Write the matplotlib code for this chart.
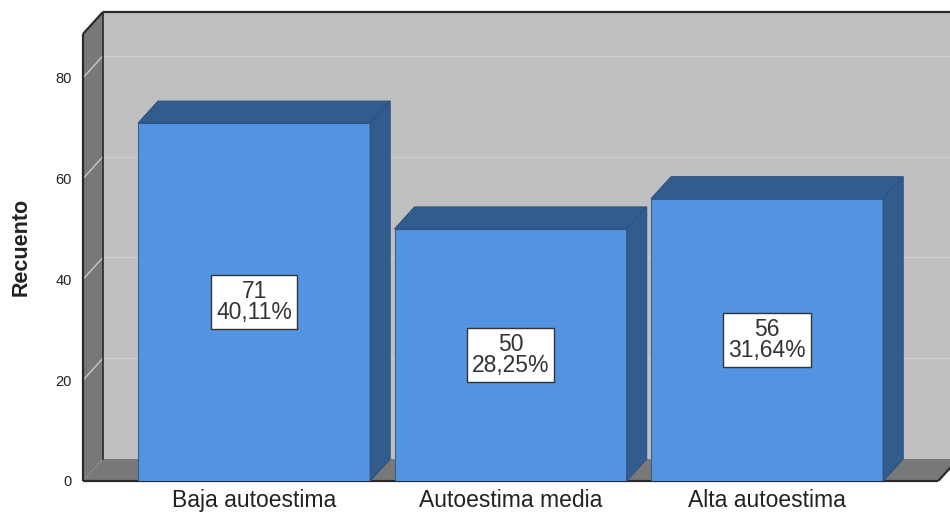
import matplotlib.pyplot as plt
from matplotlib.patches import Polygon, Rectangle

# ── DATA ──────────────────────────────────────────────────
categories = ['Baja autoestima', 'Autoestima media', 'Alta autoestima']
counts = [71, 50, 56]
percents = ['40,11%', '28,25%', '31,64%']
y_ticks = [0, 20, 40, 60, 80]

# ── STYLE / GEOMETRY ──────────────────────────────────────
plt.rcParams['font.family'] = ['Liberation Sans', 'DejaVu Sans']
bar_w = 0.905
ddx, ddy = 0.078, 4.37          # depth offset of the pseudo-3D box
x_lo, x_hi = -0.667, 2.667      # front edges of the floor
y_top = 88.7                    # top of the walls (front)
front_c = '#5294e2'
dark_c = '#335c8e'
wall_c = '#c0c0c0'
side_c = '#787878'
ink = '#222222'

fig = plt.figure(figsize=(9.5, 5.15), dpi=100)
ax = fig.add_axes([83 / 950, 34 / 515, 867 / 950, 469 / 515])
ax.set_xlim(x_lo, 2.713)
ax.set_ylim(0, 93.05)
for s in ax.spines.values():
    s.set_visible(False)

# back wall
ax.add_patch(Rectangle((x_lo + ddx, ddy), 5, y_top, facecolor=wall_c,
                       edgecolor='none', zorder=0))
for t in y_ticks[1:]:
    ax.plot([x_lo + ddx, 3.0], [t + ddy, t + ddy], color='#cdcdcd', lw=1, zorder=1)

# left wall
ax.add_patch(Polygon([(x_lo, 0), (x_lo + ddx, ddy), (x_lo + ddx, y_top + ddy),
                      (x_lo, y_top)], facecolor=side_c, edgecolor='none', zorder=1))
for t in y_ticks[1:]:
    ax.plot([x_lo, x_lo + ddx], [t, t + ddy], color='#c8c8c8', lw=1, zorder=2)

# floor
ax.add_patch(Polygon([(x_lo, 0), (x_hi, 0), (x_hi + ddx, ddy), (x_lo + ddx, ddy)],
                     facecolor=side_c, edgecolor='none', zorder=1))

# frame edges
edge_kw = dict(color='#2a2a2a', lw=1.6, zorder=3, clip_on=False, solid_capstyle='butt')
ax.plot([x_lo, x_lo], [0, y_top], **edge_kw)
ax.plot([x_lo, x_lo + ddx], [y_top, y_top + ddy], **edge_kw)
ax.plot([x_lo + ddx, 3.0], [y_top + ddy, y_top + ddy], **edge_kw)
ax.plot([x_lo + ddx, x_lo + ddx], [ddy, y_top + ddy], color='#2a2a2a', lw=1.2, zorder=2)
ax.plot([x_lo, x_hi], [0, 0], **edge_kw)
ax.plot([x_hi, x_hi + ddx], [0, ddy], **edge_kw)

# bars
for i, (v, pct) in enumerate(zip(counts, percents)):
    l, r = i - bar_w / 2, i + bar_w / 2
    ax.add_patch(Rectangle((l, 0), bar_w, v, facecolor=front_c,
                           edgecolor='#3b5f8c', lw=0.8, zorder=4))
    ax.add_patch(Polygon([(l, v), (r, v), (r + ddx, v + ddy), (l + ddx, v + ddy)],
                         facecolor=dark_c, edgecolor='#2e527f', lw=0.8, zorder=4))
    ax.add_patch(Polygon([(r, 0), (r + ddx, ddy), (r + ddx, v + ddy), (r, v)],
                         facecolor=dark_c, edgecolor='#2e527f', lw=0.8, zorder=4))
    ax.text(i, v / 2, f'{v}\n{pct}', ha='center', va='center', fontsize=16.5,
            color='#333333', linespacing=0.92, zorder=6,
            bbox=dict(boxstyle='square,pad=0.22', facecolor='white',
                      edgecolor='#333333', lw=1))

ax.set_xticks(range(len(categories)))
ax.set_xticklabels(categories, fontsize=16.5, color=ink)
ax.set_yticks(y_ticks)
ax.set_yticklabels([str(t) for t in y_ticks], fontsize=10.5, color=ink)
ax.tick_params(axis='both', length=0)
ax.tick_params(axis='x', pad=6)
ax.tick_params(axis='y', pad=8)
ax.set_ylabel('Recuento', fontsize=15.5, fontweight='bold', color=ink, labelpad=17)

fig.savefig('out.png', dpi=100)
